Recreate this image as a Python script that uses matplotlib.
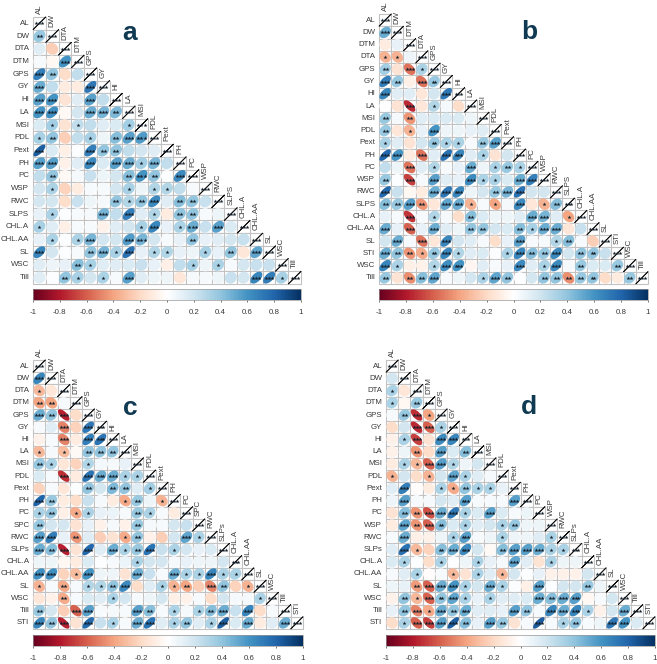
import numpy as np
import matplotlib
matplotlib.use('Agg')
from matplotlib import pyplot as plt
from matplotlib.cm import ScalarMappable
from matplotlib.colors import LinearSegmentedColormap, Normalize
from matplotlib.patches import Polygon, Rectangle

plt.rcParams['font.family'] = ['Liberation Sans', 'DejaVu Sans']

W, H = 657, 664
LINE = '#c2c2c2'
TXT = '#3a3a3a'
LETTER = '#0f3a52'

rdbu = ["#67001F", "#B2182B", "#D6604D", "#F4A582", "#FDDBC7", "#FFFFFF",
        "#D1E5F0", "#92C5DE", "#4393C3", "#2166AC", "#053061"]
cmap = LinearSegmentedColormap.from_list('rdbu', rdbu, N=200)
norm = Normalize(-1, 1)
ticks = [-1, -0.8, -0.6, -0.4, -0.2, 0, 0.2, 0.4, 0.6, 0.8, 1]

# panel a
names_a = ['AL', 'DW', 'DTA', 'DTM', 'GPS', 'GY', 'HI', 'LA', 'MSI', 'PDL', 'Pext', 'PH', 'PC', 'WSP',
           'RWC', 'SLPS', 'CHL.A', 'CHL.AA', 'SL', 'WSC', 'Till']
vals_a = [
    [.33],
    [.1, -.2],
    [.02, -.03, .55],
    [.65, .35, -.15, .2],
    [.45, .2, -.08, -.08, .68],
    [.5, .55, -.12, .1, .5, .2],
    [.55, .58, -.02, .15, .45, .42, .4],
    [.12, .3, -.12, .2, .2, .1, .12, .3],
    [.28, .35, -.2, .2, .28, .05, .38, .5, .52],
    [.8, .12, -.06, .01, .65, .35, .35, .2, .15, .1],
    [.5, .5, -.05, .1, .6, .12, .5, .45, .3, .42, .2],
    [.2, .35, -.02, .03, .18, .05, .15, .38, .55, .35, .01, .6],
    [.15, .27, -.18, -.08, .02, .02, .15, .28, .05, .25, .25, .2, .02],
    [.15, .15, -.15, .18, .05, .03, .35, .25, .35, .6, .1, .38, .35, .18],
    [.08, .27, .01, .02, .03, .42, .2, .65, .1, .25, -.08, .35, .35, .02, .05],
    [.28, .1, -.06, .02, .02, -.05, .1, .15, .28, .62, .08, .27, .45, .18, .5, .12],
    [.08, .27, .01, .27, .42, .15, .15, .52, .42, .15, .02, .08, .35, .08, .1, .15, .18],
    [.62, .15, .01, .02, .35, .42, .28, .72, .08, .25, .25, .08, .05, .28, .08, .35, -.1, .48],
    [.1, .05, .08, .38, .28, .1, .1, .12, .18, .08, -.06, .2, .28, .05, .27, .02, .15, .18, .18],
    [.1, .01, .35, .28, .15, .27, .02, .5, .1, .05, .05, -.1, .03, .03, .05, .18, .15, .62, .66, .28],
]
stars_a = ['2', '00', '003', '3200', '30003', '330030', '3300332', '01010001', '120010233',
           '3000322000', '33003033130', '020000023203', '0100000101100', '00000021230220',
           '010003030102200', '1000000013013030', '01013003300020000', '300023130110010203',
           '0002100000001010000', '00210103000000000331']

# panel b
names_b = ['AL', 'DW', 'DTM', 'DTA', 'GPS', 'GY', 'HI', 'LA', 'MSI', 'PDL', 'Pext', 'PH', 'PC', 'WSP',
           'RWC', 'SLPS', 'CHL.A', 'CHL.AA', 'SL', 'STI', 'WSC', 'Till']
vals_b = [
    [.45],
    [-.08, .08],
    [-.3, -.3, .05],
    [.3, -.12, -.5, .27],
    [.65, .33, -.06, -.5, .33],
    [.62, .1, .1, -.1, .15, .68],
    [0, -.12, -.72, -.1, .25, .03, -.15],
    [.33, .03, -.4, .1, .12, .12, .12, .05],
    [.33, -.1, -.3, .08, .55, .05, .05, .08, .1],
    [.27, .1, -.12, .15, .33, .27, .27, .02, .33, .5],
    [.76, .55, -.08, -.5, .1, .72, .62, .1, .27, -.12, .15],
    [.2, .05, -.5, .1, .25, .02, .08, .45, .05, .27, .33, .27],
    [.33, .01, -.65, .02, .5, .1, .08, .6, .27, .27, .12, .45, .65],
    [.76, .18, -.03, -.08, .45, .68, .62, .05, .15, .33, .42, .72, .15, .15],
    [.38, .33, .5, -.4, -.1, .48, .45, -.3, .02, -.35, .03, .6, -.1, -.3, .38],
    [.08, .02, -.68, .02, .25, .03, -.15, .38, .12, .05, .05, .1, .45, .42, .1, -.35],
    [.45, .08, -.55, .08, .45, .1, .05, .35, .35, .15, .12, .38, .28, .45, .45, -.1, .18],
    [.15, .45, .02, -.5, -.1, .62, .15, .1, .02, -.15, .08, .5, .02, .02, .25, .38, .02, -.2],
    [.45, .35, -.4, -.33, .33, .62, .25, .1, .12, .01, .27, .62, .38, .33, .6, .15, .35, .35, .18],
    [.62, .27, -.06, -.05, .25, .58, .55, -.04, .1, .02, .08, .6, .1, .27, .6, .03, .33, .12, .12, .33],
    [.33, -.12, -.42, .38, .48, .02, .05, .15, .27, .48, .35, .01, .15, .35, .35, -.42, .33, .35, -.15, -.08, .33],
]
stars_b = ['3', '00', '110', '2031', '32032', '300003', '0030100', '20200000', '201030000',
           '1000211023', '33030330100', '003010030121', '2030300311033', '30003330023300',
           '223203310103012', '0030100200003301', '30303002200213300', '030303000003001200',
           '3221231000132230220', '31001330000301302002', '202230001320022222002']

# panel c
names_c = ['AL', 'DW', 'DTA', 'DTM', 'GPS', 'GY', 'HI', 'LA', 'MSI', 'PDL', 'Pext', 'PH', 'PC', 'SPC',
           'RWC', 'SLPs', 'CHL.A', 'CHL.AA', 'SL', 'WSC', 'Till', 'STI']
vals_c = [
    [.62],
    [-.28, -.1],
    [-.35, -.35, .02],
    [.45, .35, -.75, -.15],
    [.02, .1, -.45, -.18, .68],
    [-.05, .02, -.45, -.08, .65, .7],
    [-.28, .03, -.27, -.02, .35, .35, .35],
    [.33, .27, -.1, -.18, .25, .04, .03, .08],
    [.12, .02, -.7, -.08, .7, .45, .45, .27, .27],
    [-.18, .02, -.1, .01, .35, .15, .4, .35, .1, .3],
    [.78, .33, -.08, -.15, .18, .03, -.08, -.33, .33, .05, -.3],
    [.27, .33, -.06, -.33, .27, .08, .06, .02, .33, .27, .02, -.08],
    [.33, .15, .15, -.12, .08, -.05, .03, -.05, .33, .03, .02, .15, .18],
    [.5, .65, .08, -.4, .1, -.2, -.12, -.33, .35, -.05, -.2, .15, .48, .27],
    [.45, .38, -.75, -.12, .76, .1, .45, .27, .33, .7, .18, .27, .15, .08, .12],
    [.05, .05, -.03, -.08, .12, .01, .02, .06, .27, .15, .15, .03, .08, .05, .05, .15],
    [.58, .58, -.18, -.27, .55, .05, .05, -.12, .45, .18, .02, .45, .27, .27, .62, .27, .27],
    [-.3, .02, -.33, .02, .25, .25, .35, .6, -.15, .1, .27, -.3, -.35, -.2, -.45, .35, -.18, -.3],
    [-.1, -.05, -.33, .02, .12, .1, .27, .15, .02, .05, .15, -.06, -.05, .02, -.15, .15, .03, .03, .27],
    [.33, .15, -.2, -.55, .5, .02, .03, .02, .5, .38, .02, .27, .03, .27, .38, .45, .18, .62, -.15, .02],
    [.62, .35, -.75, -.12, .75, .18, .27, .02, .45, .7, .1, .27, .35, .1, .27, .8, .12, .45, -.08, .1, .45],
]
stars_c = ['3', '10', '220', '3230', '00303', '003033', '1010222', '21001000', '003033311',
           '0000202201', '32000001201', '120110002100', '2000000020000', '33020001200031',
           '323030312301000', '0000000010000000', '33013000300311311', '102011230011203201',
           '0020001000000000001', '20033000320101230300', '323030103301201303003']

# panel d
names_d = ['AL', 'DW', 'DTA', 'DTM', 'GPS', 'GY', 'HI', 'LA', 'MSI', 'PDL', 'Pext', 'PH', 'PC', 'WSP',
           'RWC', 'SLPs', 'CHL.A', 'CHL.AA', 'SL', 'WSC', 'Till', 'STI']
vals_d = [
    [.15],
    [.27, -.1],
    [.27, -.03, .33],
    [.02, .33, -.7, -.35],
    [-.15, .15, -.72, -.55, .27],
    [-.05, .27, -.65, -.12, .6, .62],
    [-.05, .05, -.4, -.15, .5, .12, .38],
    [-.08, .27, -.28, -.55, .5, .25, .05, .15],
    [-.3, .15, -.15, -.3, .15, .48, .27, .1, .03],
    [.1, .65, -.01, -.08, .27, -.33, .35, .27, .27, .08],
    [.05, .5, .02, .03, .15, .1, .5, .02, .02, .02, .5],
    [-.12, .38, -.4, -.6, .45, .68, .27, .12, .5, .12, .02, .06],
    [-.08, .48, -.4, -.55, .38, .12, .27, .1, .15, .27, .33, .05, .05],
    [.02, .45, -.06, -.05, .05, .27, .5, .03, .05, .27, .05, .05, .1, .27],
    [.1, .72, -.28, -.18, .38, .45, .6, .15, -.02, .38, .5, .5, .45, .27, .27],
    [.12, .27, .01, -.15, .27, .01, .05, .27, .08, .03, .48, .1, -.12, .27, .05, .05],
    [.02, .1, .27, -.01, .02, -.28, -.12, .27, .1, -.28, .15, .01, .08, -.05, -.05, -.05, .15],
    [.05, .08, -.38, -.55, .45, .55, .27, .15, .45, .27, .01, -.06, .5, .01, .15, .15, .33, .05],
    [-.05, .35, -.28, -.55, .35, .48, .27, .08, .27, .1, .1, .12, .45, .38, .45, .5, -.03, .02, .15],
    [.08, .35, -.45, -.33, .45, .35, .45, .1, .1, .08, .5, .35, .03, .62, .45, .62, .27, -.05, .15, .45],
    [-.15, .27, -.55, -.65, .5, .8, .38, .08, .5, .33, -.12, .02, .82, .02, .27, .35, .02, .05, .68, .55, .12],
]
stars_d = ['0', '10', '102', '0231', '00331', '013033', '0020302', '01133100', '100103100',
           '0300112110', '03000030003', '022333103000', '0323201001200', '03000130010001',
           '031023300233311', '0100100100300100', '00100101010000000', '002333103100300020',
           '0213231010003233000', '02313230003203331003', '013333203200301200330']

panels = [
    ('a', names_a, vals_a, stars_a, (33, 17, 301, 284), (33, 289, 301, 300), (130, 33)),
    ('b', names_b, vals_b, stars_b, (379, 14, 648, 284), (379, 289, 648, 300), (529, 32)),
    ('c', names_c, vals_c, stars_c, (33, 360, 303, 629), (33, 635, 303, 646), (130, 408)),
    ('d', names_d, vals_d, stars_d, (386, 360, 655, 629), (386, 635, 655, 646), (529, 407)),
]


def box(x0, y0, x1, y1):
    return [x0 / W, 1 - y1 / H, (x1 - x0) / W, (y1 - y0) / H]


def ellipse(cx, cy, r, rad=0.47):
    # the reference ellipses are a bit fatter than acos(r) alone gives
    s = np.sign(r) * abs(r) ** 1.4
    t = np.linspace(0, 2 * np.pi, 80)
    a = np.arccos(np.clip(s, -1, 1)) / 2
    return np.c_[cx + rad * np.cos(t + a), cy - rad * np.cos(t - a)]


def shade(v):
    # light cells read a little stronger in the reference
    return cmap(norm(np.sign(v) * abs(v) ** 0.88))


def draw_stars(ax, cx, cy, count, ms=3.0):
    if count == 0:
        return
    xs = cx + (np.arange(count) - (count - 1) / 2) * 0.24
    ax.plot(xs, [cy] * count, ls='', marker='*', ms=ms, color='#15202b', mew=0, zorder=5)


fig = plt.figure(figsize=(W / 100, H / 100), dpi=100)

for letter, names, vals, stars, gbox, cbox, lpos in panels:
    n = len(names)
    ax = fig.add_axes(box(*gbox))
    ax.set_xlim(0, n)
    ax.set_ylim(n, 0)
    ax.axis('off')
    for i in range(n):
        for j in range(i + 1):
            ax.add_patch(Rectangle((j, i), 1, 1, fc='white', ec=LINE, lw=0.8, clip_on=False, zorder=1))
    for i in range(1, n):
        for j, v in enumerate(vals[i - 1]):
            ax.add_patch(Polygon(ellipse(j + .5, i + .5, v), closed=True, fc=shade(v), ec='none', zorder=3))
            draw_stars(ax, j + .5, i + .5, int(stars[i - 1][j]))
    for i in range(n):
        # diagonal cell, r = 1
        xy = ellipse(i + .5, i + .5, 1.0, rad=0.49)
        ax.plot(xy[:, 0], xy[:, 1], color='#111111', lw=0.6, zorder=4, clip_on=False)
        draw_stars(ax, i + .5, i + .5, 3)
        ax.text(-0.3, i + .5, names[i], ha='right', va='center', fontsize=5.7, color=TXT)
        ax.text(i + .5, i - 0.22, names[i], ha='center', va='bottom', rotation=90, fontsize=5.7, color=TXT)

    cax = fig.add_axes(box(*cbox))
    cb = fig.colorbar(ScalarMappable(norm=norm, cmap=cmap), cax=cax, orientation='horizontal')
    cb.set_ticks(ticks)
    cb.set_ticklabels(['%g' % t for t in ticks])
    cb.ax.tick_params(labelsize=5.7, length=1.5, width=0.5, pad=5, colors=TXT)
    cb.outline.set_linewidth(0.5)
    cb.outline.set_edgecolor('#999999')

    fig.text(lpos[0] / W, 1 - lpos[1] / H, letter, fontsize=19, fontweight='bold', color=LETTER,
             ha='center', va='center')

fig.savefig('out.png', dpi=100)
